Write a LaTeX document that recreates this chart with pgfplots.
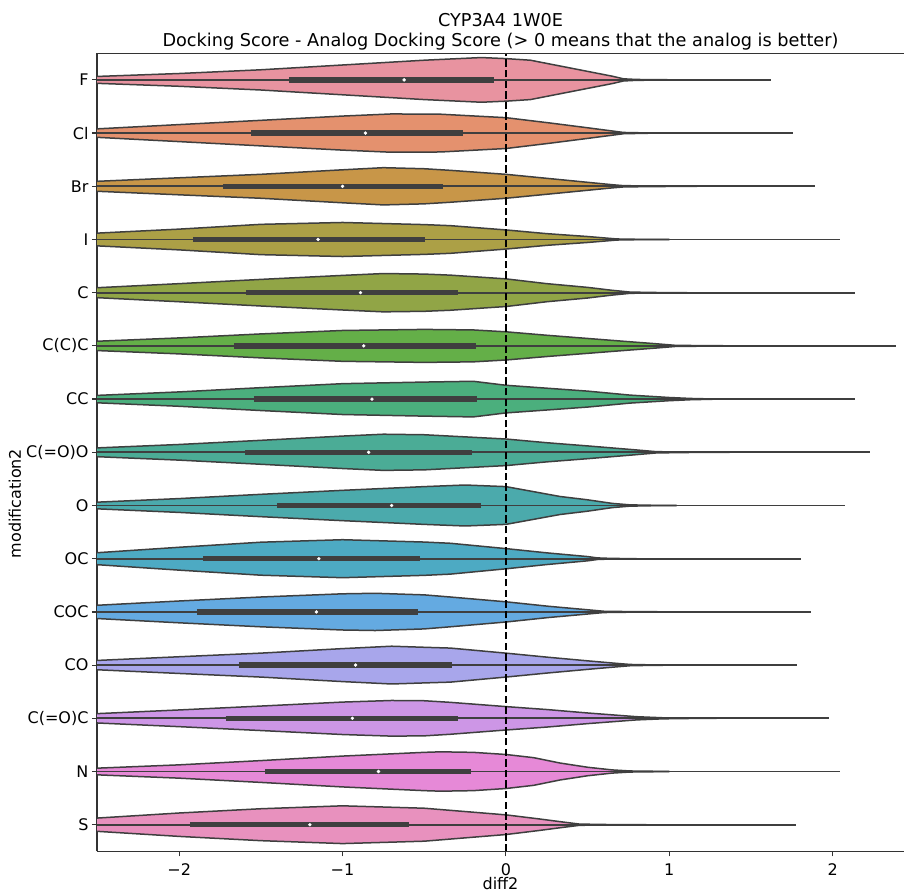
\documentclass[border=0pt]{standalone}
\usepackage{fontspec}
\setmainfont{DejaVu Sans}
\usepackage{pgfplots}
\usepackage{pgfplotstable}
\pgfplotsset{compat=1.18}
\usepgfplotslibrary{fillbetween}

\definecolor{vgray}{RGB}{63,63,63}
\definecolor{cF}{RGB}{232,147,160}
\definecolor{cCl}{RGB}{228,145,110}
\definecolor{cBr}{RGB}{200,150,72}
\definecolor{cI}{RGB}{172,160,70}
\definecolor{cC}{RGB}{145,165,70}
\definecolor{cCCC}{RGB}{100,175,72}
\definecolor{cCC}{RGB}{75,175,125}
\definecolor{cCOO}{RGB}{75,172,150}
\definecolor{cO}{RGB}{75,170,172}
\definecolor{cOC}{RGB}{77,170,195}
\definecolor{cCOC}{RGB}{100,170,225}
\definecolor{cCO}{RGB}{168,166,235}
\definecolor{cCOC2}{RGB}{205,150,230}
\definecolor{cN}{RGB}{230,137,215}
\definecolor{cS}{RGB}{232,145,190}

% violin half-widths (x, h)
\pgfplotstableread{
x h
-2.6 0.055
-2.5 0.065
-2.0 0.12
-1.5 0.19
-1.0 0.28
-0.5 0.37
-0.15 0.42
0.0 0.40
0.15 0.37
0.3 0.28
0.5 0.16
0.65 0.07
0.72 0.02
0.8 0.008
1.05 0.001
}\tF
\pgfplotstableread{
x h
-2.6 0.07
-2.5 0.08
-2.0 0.16
-1.5 0.24
-1.0 0.32
-0.7 0.36
-0.4 0.355
0.0 0.29
0.27 0.19
0.5 0.10
0.65 0.04
0.72 0.012
0.9 0.001
}\tCl
\pgfplotstableread{
x h
-2.6 0.085
-2.5 0.094
-2.0 0.16
-1.5 0.225
-1.0 0.31
-0.75 0.35
-0.5 0.33
-0.34 0.30
0.0 0.225
0.25 0.15
0.5 0.075
0.65 0.03
0.72 0.012
0.9 0.005
1.17 0.001
}\tBr
\pgfplotstableread{
x h
-2.6 0.11
-2.5 0.12
-2.0 0.195
-1.5 0.285
-1.0 0.32
-0.5 0.28
-0.34 0.26
0.0 0.18
0.25 0.11
0.5 0.056
0.68 0.01
0.8 0.004
1.0 0.001
}\tI
\pgfplotstableread{
x h
-2.6 0.085
-2.5 0.094
-2.0 0.17
-1.5 0.25
-1.0 0.325
-0.75 0.36
-0.5 0.35
-0.34 0.33
0.0 0.26
0.25 0.17
0.5 0.10
0.65 0.045
0.76 0.012
0.9 0.004
1.11 0.001
}\tC
\pgfplotstableread{
x h
-2.6 0.08
-2.5 0.088
-2.0 0.15
-1.5 0.225
-1.0 0.29
-0.5 0.31
-0.2 0.30
0.0 0.265
0.25 0.20
0.5 0.14
0.75 0.08
0.9 0.045
1.04 0.01
1.3 0.003
1.57 0.001
}\tCCC
\pgfplotstableread{
x h
-2.6 0.062
-2.5 0.07
-2.0 0.135
-1.5 0.215
-1.0 0.29
-0.5 0.32
-0.2 0.335
0.0 0.26
0.25 0.205
0.5 0.15
0.76 0.075
1.0 0.03
1.13 0.012
1.29 0.001
}\tCC
\pgfplotstableread{
x h
-2.6 0.075
-2.5 0.083
-2.0 0.147
-1.5 0.225
-1.0 0.305
-0.75 0.34
-0.5 0.33
0.0 0.25
0.25 0.18
0.5 0.12
0.8 0.044
0.92 0.012
1.1 0.004
1.37 0.001
}\tCOO
\pgfplotstableread{
x h
-2.6 0.055
-2.5 0.063
-2.0 0.13
-1.5 0.21
-1.0 0.285
-0.5 0.355
-0.25 0.385
0.0 0.355
0.17 0.26
0.33 0.17
0.5 0.107
0.65 0.04
0.76 0.012
0.9 0.004
1.045 0.001
}\tO
\pgfplotstableread{
x h
-2.6 0.10
-2.5 0.113
-2.0 0.215
-1.5 0.31
-1.0 0.357
-0.5 0.313
-0.34 0.29
0.0 0.19
0.25 0.11
0.5 0.04
0.56 0.015
0.65 0.005
0.8 0.001
}\tOC
\pgfplotstableread{
x h
-2.6 0.11
-2.5 0.125
-2.0 0.205
-1.5 0.28
-1.0 0.34
-0.8 0.35
-0.5 0.32
-0.34 0.28
0.0 0.19
0.26 0.106
0.5 0.04
0.6 0.012
0.8 0.004
1.13 0.001
}\tCOC
\pgfplotstableread{
x h
-2.6 0.08
-2.5 0.088
-2.0 0.157
-1.5 0.225
-1.0 0.31
-0.7 0.355
-0.5 0.335
-0.34 0.32
0.0 0.225
0.25 0.15
0.5 0.08
0.65 0.04
0.76 0.012
0.9 0.004
1.05 0.001
}\tCO
\pgfplotstableread{
x h
-2.6 0.08
-2.5 0.088
-2.0 0.157
-1.5 0.23
-1.0 0.305
-0.7 0.335
-0.5 0.33
-0.34 0.30
0.0 0.22
0.25 0.165
0.5 0.10
0.8 0.03
0.96 0.01
1.1 0.004
1.29 0.001
}\tCOCtwo
\pgfplotstableread{
x h
-2.6 0.055
-2.5 0.063
-2.0 0.125
-1.5 0.205
-1.0 0.29
-0.5 0.36
-0.4 0.37
-0.2 0.36
0.0 0.32
0.17 0.26
0.33 0.16
0.5 0.08
0.65 0.03
0.76 0.01
1.0 0.001
}\tN
\pgfplotstableread{
x h
-2.6 0.11
-2.5 0.125
-2.0 0.22
-1.5 0.30
-1.0 0.355
-0.5 0.31
0.0 0.185
0.2 0.11
0.35 0.05
0.45 0.012
0.6 0.004
0.86 0.001
}\tS

% #1 table, #2 position, #3 colour, #4 q1, #5 median, #6 q3, #7 whisker end
\newcommand{\violin}[7]{%
  \addplot[draw=none, name path=u#2] table[x=x, y expr=#2+\thisrow{h}] {#1};
  \addplot[draw=none, name path=l#2] table[x=x, y expr=#2-\thisrow{h}] {#1};
  \addplot[fill=#3, draw=none] fill between[of=u#2 and l#2];
  \addplot[vgray, line width=1.5pt, line join=round] table[x=x, y expr=#2+\thisrow{h}] {#1};
  \addplot[vgray, line width=1.5pt, line join=round] table[x=x, y expr=#2-\thisrow{h}] {#1};
  \addplot[vgray, line width=1.8pt] coordinates {(-2.6,#2) (#7,#2)};
  \addplot[vgray, line width=5.3pt] coordinates {(#4,#2) (#6,#2)};
  \addplot[only marks, mark=*, mark size=1.5pt, white] coordinates {(#5,#2)};
}

\begin{document}
\begin{tikzpicture}
\begin{axis}[
  at={(0,0)}, anchor=south west,
  scale only axis, width=807pt, height=798pt,
  xmin=-2.503, xmax=2.437, ymin=-0.5, ymax=14.5,
  axis x line*=bottom, axis y line*=left,
  axis line style={line width=1.2pt, black!80, -},
  xtick={-2,-1,0,1,2}, xticklabels={−2,−1,0,1,2},
  ytick={0,1,2,3,4,5,6,7,8,9,10,11,12,13,14},
  yticklabels={S,N,{C(=O)C},CO,COC,OC,O,{C(=O)O},CC,{C(C)C},C,I,Br,Cl,F},
  tick align=outside, major tick length=5pt,
  tick style={line width=1.2pt, black!80},
  tick label style={font=\fontsize{16}{19}\selectfont},
  xticklabel style={yshift=-4pt},
  xlabel={diff2}, ylabel={modification2},
  label style={font=\fontsize{16}{19}\selectfont},
  xlabel style={at={(axis description cs:0.5,-0.041)}, anchor=center},
  ylabel style={at={(axis description cs:-0.1016,0.4357)}, anchor=center},
  title={CYP3A4 1W0E\\Docking Score - Analog Docking Score (> 0 means that the analog is better)},
  title style={at={(axis description cs:0.5,1.0197)}, anchor=center, align=center, font=\fontsize{17.7}{20}\selectfont},
  clip=true,
]
\violin{\tF}{14}{cF}{-1.327}{-0.623}{-0.073}{1.62}
\violin{\tCl}{13}{cCl}{-1.56}{-0.86}{-0.265}{1.755}
\violin{\tBr}{12}{cBr}{-1.73}{-1.0}{-0.384}{1.89}
\violin{\tI}{11}{cI}{-1.915}{-1.15}{-0.494}{2.045}
\violin{\tC}{10}{cC}{-1.59}{-0.89}{-0.296}{2.14}
\violin{\tCCC}{9}{cCCC}{-1.665}{-0.87}{-0.186}{2.39}
\violin{\tCC}{8}{cCC}{-1.543}{-0.82}{-0.175}{2.14}
\violin{\tCOO}{7}{cCOO}{-1.596}{-0.84}{-0.208}{2.23}
\violin{\tO}{6}{cO}{-1.40}{-0.70}{-0.155}{2.076}
\violin{\tOC}{5}{cOC}{-1.853}{-1.145}{-0.523}{1.806}
\violin{\tCOC}{4}{cCOC}{-1.888}{-1.16}{-0.541}{1.866}
\violin{\tCO}{3}{cCO}{-1.635}{-0.92}{-0.327}{1.78}
\violin{\tCOCtwo}{2}{cCOC2}{-1.715}{-0.94}{-0.292}{1.98}
\violin{\tN}{1}{cN}{-1.472}{-0.78}{-0.214}{2.045}
\violin{\tS}{0}{cS}{-1.935}{-1.2}{-0.594}{1.775}
\addplot[black, line width=2pt, dash pattern=on 7.4pt off 3.2pt] coordinates {(0,-0.5) (0,14.5)};
\draw[line width=1.2pt, black!80] (rel axis cs:0,1) -- (rel axis cs:1,1);
\end{axis}
\pgfresetboundingbox
\path[use as bounding box] (-97pt,-43.3pt) rectangle (807pt,851.3pt);
\end{tikzpicture}
\end{document}
